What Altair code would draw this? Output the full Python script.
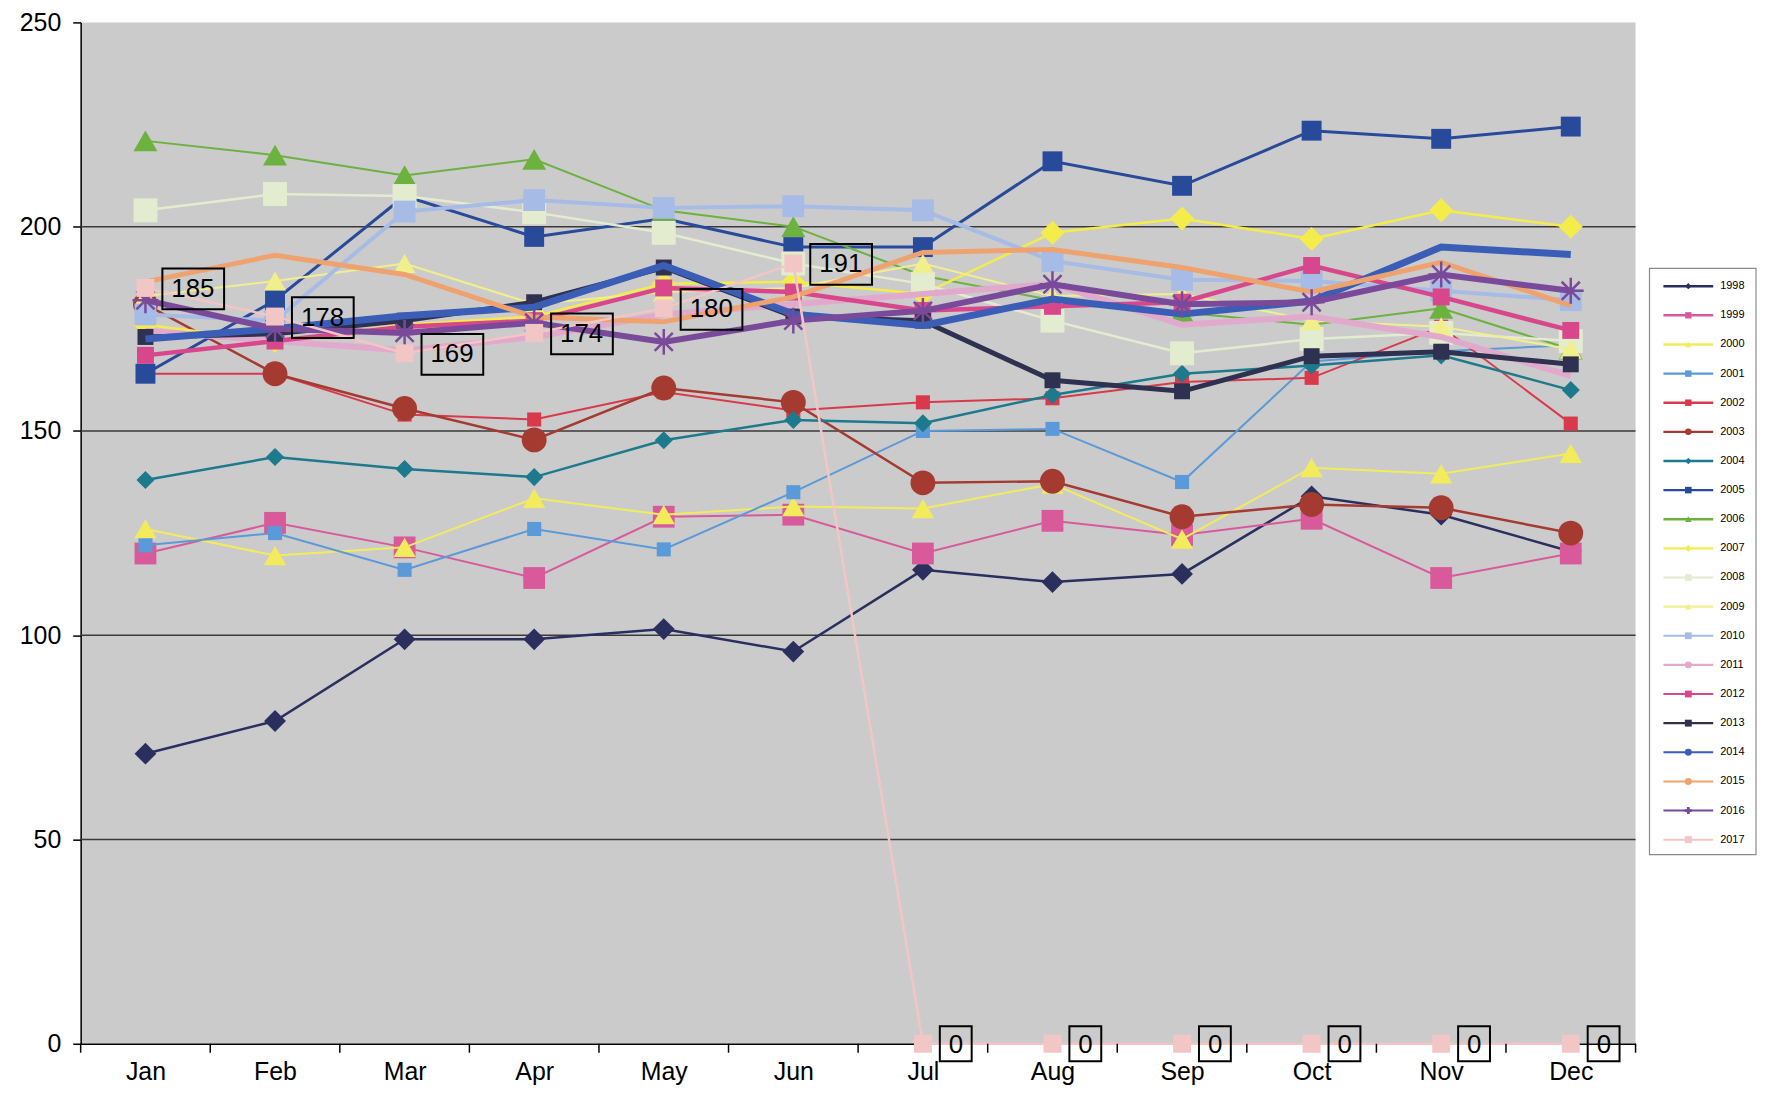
import json
import altair as alt
import pandas as pd

months = ["Jan", "Feb", "Mar", "Apr", "May", "Jun", "Jul", "Aug", "Sep", "Oct", "Nov", "Dec"]
years = ["1998", "1999", "2000", "2001", "2002", "2003", "2004", "2005", "2006", "2007",
         "2008", "2009", "2010", "2011", "2012", "2013", "2014", "2015", "2016", "2017"]

v1998 = [71, 79, 99, 99, 101.5, 96, 116, 113, 115, 134, 129.5, 120.5]
v1999 = [120, 127.5, 121.5, 114, 129, 129.5, 120, 128, 124.5, 128.5, 114, 120]
v2000 = [126, 119.5, 121.5, 133.5, 129.5, 131.5, 131, 137, 123.5, 141, 139.5, 144.5]
v2001 = [122, 125, 116, 126, 121, 135, 150, 150.5, 137.5, 167, 169.5, 171]
v2002 = [164, 164, 154, 152.8, 159.5, 155, 157, 158, 162, 163, 175.5, 151.8]
v2003 = [181, 164, 155.5, 147.8, 160.5, 157, 137.3, 137.7, 129, 132, 131.2, 125]
v2004 = [138, 143.6, 140.7, 138.7, 147.7, 152.7, 151.9, 158.8, 164, 166, 168.5, 160]
v2005 = [164, 182, 207.5, 197.5, 202, 195, 195, 216, 210, 223.5, 221.5, 224.5]
v2006 = [221, 217.5, 212.5, 216.5, 204, 200, 188, 182, 179, 176, 180, 170]
v2007 = [176, 172, 176, 178, 186, 186.5, 183.5, 198.5, 202, 197, 204, 200]
v2008 = [204, 208, 207.5, 203.5, 198.5, 191, 186, 177, 169, 172.5, 174, 172]
v2009 = [183, 186.7, 191, 181, 184, 185, 191, 183, 183.5, 177, 175.5, 170]
v2010 = [178.5, 177, 203.7, 206.5, 204.6, 205, 204, 191.6, 187, 186.7, 184.3, 182]
v2011 = [174.5, 172, 169.7, 173, 178.5, 181, 183.5, 186, 176, 178, 173, 163.5]
v2012 = [168.5, 172, 175.5, 177, 185, 184, 179.5, 180.5, 181.5, 190.5, 182.8, 174.6]
v2013 = [173, 173.8, 177, 181.5, 190, 178, 177, 162.4, 159.7, 168.3, 169.4, 166.3]
v2014 = [172.5, 175, 178.2, 180.3, 190.5, 178.6, 175.8, 182.3, 178.6, 181.8, 195, 193.2]
v2015 = [186.5, 193, 188.3, 177.9, 176.7, 182.8, 193.7, 194.4, 190, 184, 191.3, 180.7]
v2016 = [182, 175, 174, 176.5, 171.8, 177, 179.4, 185.9, 181, 181.5, 188.3, 184.3]
v2017 = [185, 178, 169, 174, 180, 191, 0, 0, 0, 0, 0, 0]

series = [v1998, v1999, v2000, v2001, v2002, v2003, v2004, v2005, v2006, v2007,
          v2008, v2009, v2010, v2011, v2012, v2013, v2014, v2015, v2016, v2017]

grid_values = [50, 100, 150, 200]
y_ticks = [0, 50, 100, 150, 200, 250]

# styles
colors = ["#2a2f5e", "#d95a9b", "#f2ec5c", "#5b9ad8", "#d83a4c", "#a43a30", "#1d7a8c",
          "#284a9a", "#6bb23e", "#f4ec4a", "#e4ecd0", "#f1ef8c", "#a6bbe5", "#e1a9cc",
          "#d8478b", "#2e3150", "#3a5db6", "#eea36f", "#7a4a9a", "#f2c6c4"]
ASTER = "M-1,0L1,0M0,-1L0,1M-0.7,-0.7L0.7,0.7M-0.7,0.7L0.7,-0.7"
shapes = ["diamond", "square", "triangle-up", "square", "square", "circle", "diamond",
          "square", "triangle-up", "diamond", "square", "triangle-up", "square", None,
          "square", "square", None, None, ASTER, "square"]
sizes = [480, 480, 500, 200, 200, 625, 330, 400, 580, 580, 580, 480, 480, 0,
         290, 256, 0, 0, 676, 324]
widths = [2.5, 2, 2, 2, 2, 2.5, 2.5, 3, 2, 2.5, 2.5, 2, 4, 6, 4.5, 5, 7, 5, 6, 2.5]

FONT = "Liberation Sans"
W, H = 1562, 1026

rows = []
for yr, vals in zip(years, series):
    for i, v in enumerate(vals):
        rows.append({"year": yr, "m": i, "month": months[i], "value": v})
df = pd.DataFrame(rows)


def make_x(field):
    return alt.X(
        f"{field}:Q",
        scale=alt.Scale(domain=[-0.5, 11.5], nice=False, zero=False),
        axis=alt.Axis(values=list(range(12)), labelExpr=f"{json.dumps(months)}[datum.value]",
                      title=None, grid=False, ticks=False, domainColor="black", domainWidth=1.5,
                      labelFontSize=25, labelFont=FONT, labelColor="black", labelPadding=16,
                      labelFlush=False, labelOverlap=False),
    )


def make_y(field):
    return alt.Y(
        f"{field}:Q",
        scale=alt.Scale(domain=[0, 250], nice=False, zero=True),
        axis=alt.Axis(values=y_ticks, title=None, grid=False, tickSize=8, tickColor="black",
                      tickWidth=1.5, domainColor="black", domainWidth=1.5, labelFontSize=25,
                      labelFont=FONT, labelColor="black", labelPadding=12),
    )


main_layers = []
grid = alt.Chart(pd.DataFrame({"g": grid_values})).mark_rule(
    color="#3a3a3a", strokeWidth=1.5).encode(y=make_y("g"))
main_layers.append(grid)

for i, yr in enumerate(years):
    sub = df[df["year"] == yr]
    base = alt.Chart(sub)
    main_layers.append(
        base.mark_line(color=colors[i], strokeWidth=widths[i]).encode(x=make_x("m"), y=make_y("value"))
    )
    if shapes[i] is not None:
        if shapes[i] == ASTER:
            pt = base.mark_point(shape=ASTER, size=sizes[i], filled=False, color=colors[i],
                                 strokeWidth=2.5, opacity=1)
        else:
            pt = base.mark_point(shape=shapes[i], size=sizes[i], filled=True, color=colors[i],
                                 opacity=1)
        main_layers.append(pt.encode(x=make_x("m"), y=make_y("value")))

# data labels for the last series
lab_df = df[df["year"] == years[-1]]
BOX3 = "M0.34,-0.39H1.58V0.43H0.34Z"
BOX1 = "M0.34,-0.35H0.98V0.35H0.34Z"
boxes = alt.Chart(lab_df).mark_point(filled=False, color="black", strokeWidth=2, size=10000,
                                     opacity=1).encode(
    x=make_x("m"), y=make_y("value"),
    shape=alt.condition("datum.value > 0", alt.value(BOX3), alt.value(BOX1)),
)
texts = alt.Chart(lab_df).mark_text(align="left", baseline="middle", dx=26, dy=1, fontSize=26,
                                    font=FONT, color="black").encode(
    x=make_x("m"), y=make_y("value"), text=alt.Text("value:Q", format="d"),
)
main_layers += [boxes, texts]

boundaries = [i - 0.5 for i in range(13)]
cat_ticks = alt.Chart(pd.DataFrame({"b": boundaries})).mark_rule(
    color="black", strokeWidth=1.5).encode(x=make_x("b"), y=alt.value(H), y2=alt.value(H + 9))
main_layers.append(cat_ticks)

main = alt.layer(*main_layers)

# legend
leg_shapes = ["diamond", "square", "triangle-up", "square", "square", "circle", "diamond",
              "square", "triangle-up", "diamond", "square", "triangle-up", "square", "circle",
              "square", "square", "circle", "circle", "cross", "square"]
leg_sizes = [40, 50, 40, 50, 50, 50, 40, 60, 40, 40, 40, 40, 50, 40, 50, 60, 0, 0, 50, 40]
leg_widths = [2.5, 2, 2, 2, 2, 2, 2, 2.5, 2, 2, 1.5, 1.5, 2, 2, 2.5, 4, 2.5, 2.5, 3, 1.5]
leg_df = pd.DataFrame({"year": years})
leg_y = alt.Y("year:O", scale=alt.Scale(type="point", domain=years, range=[265, 821], padding=0),
              axis=None)
leg_color = alt.Color("year:N", scale=alt.Scale(domain=years, range=colors), legend=None)

leg_box = alt.Chart(pd.DataFrame({"k": [0]})).mark_rect(
    fill="white", stroke="#8a8a8a", strokeWidth=1.2).encode(
    x=alt.value(1576), x2=alt.value(1683), y=alt.value(247), y2=alt.value(836))
leg_rule = alt.Chart(leg_df).mark_rule().encode(
    x=alt.value(1590), x2=alt.value(1640), y=leg_y, color=leg_color,
    strokeWidth=alt.StrokeWidth("year:O", scale=alt.Scale(domain=years, range=leg_widths),
                                legend=None),
)
leg_pt = alt.Chart(leg_df).mark_point(filled=True, opacity=1).encode(
    x=alt.value(1615), y=leg_y, color=leg_color,
    shape=alt.Shape("year:N", scale=alt.Scale(domain=years, range=leg_shapes), legend=None),
    size=alt.Size("year:O", scale=alt.Scale(domain=years, range=leg_sizes), legend=None),
)
leg_text = alt.Chart(leg_df).mark_text(align="left", baseline="middle", fontSize=11, font=FONT,
                                       color="black").encode(
    x=alt.value(1647), y=leg_y, text="year:N")

legend = alt.layer(leg_box, leg_rule, leg_pt, leg_text)

chart = alt.layer(main, legend).resolve_scale(y="independent").properties(
    width=W, height=H,
    autosize=alt.AutoSizeParams(type="none"),
    padding={"left": 73, "top": 12, "right": 122, "bottom": 42},
    background="white",
).configure_view(fill="#cbcbcb", stroke=None)

chart.save("out.html", embed_options={"renderer": "svg", "actions": False})
